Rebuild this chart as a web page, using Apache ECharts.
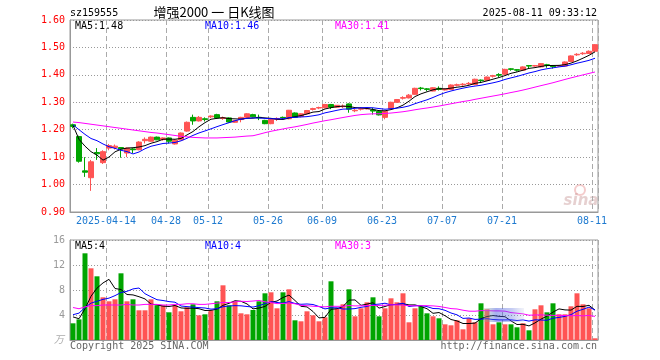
<!DOCTYPE html>
<html><head><meta charset="utf-8">
<script src="https://cdn.jsdelivr.net/npm/echarts@6/dist/echarts.min.js"></script>
<style>html,body{margin:0;padding:0;background:#fff}#c{width:660px;height:360px}</style>
</head><body><div id="c"></div>
<script>
// ---- categories (trading days) ----
const dates = [
'2025-04-03','2025-04-07','2025-04-08','2025-04-09','2025-04-10','2025-04-11','2025-04-14','2025-04-15','2025-04-16','2025-04-17',
'2025-04-18','2025-04-21','2025-04-22','2025-04-23','2025-04-24','2025-04-25','2025-04-28','2025-04-29','2025-04-30','2025-05-06',
'2025-05-07','2025-05-08','2025-05-09','2025-05-12','2025-05-13','2025-05-14','2025-05-15','2025-05-16','2025-05-19','2025-05-20',
'2025-05-21','2025-05-22','2025-05-23','2025-05-26','2025-05-27','2025-05-28','2025-05-29','2025-05-30','2025-06-03','2025-06-04',
'2025-06-05','2025-06-06','2025-06-09','2025-06-10','2025-06-11','2025-06-12','2025-06-13','2025-06-16','2025-06-17','2025-06-18',
'2025-06-19','2025-06-20','2025-06-23','2025-06-24','2025-06-25','2025-06-26','2025-06-27','2025-06-30','2025-07-01','2025-07-02',
'2025-07-03','2025-07-04','2025-07-07','2025-07-08','2025-07-09','2025-07-10','2025-07-11','2025-07-14','2025-07-15','2025-07-16',
'2025-07-17','2025-07-18','2025-07-21','2025-07-22','2025-07-23','2025-07-24','2025-07-25','2025-07-28','2025-07-29','2025-07-30',
'2025-07-31','2025-08-01','2025-08-04','2025-08-05','2025-08-06','2025-08-07','2025-08-08','2025-08-11'];
const labelDates = ['2025-04-14','2025-04-28','2025-05-12','2025-05-26','2025-06-09','2025-06-23','2025-07-07','2025-07-21','2025-08-11'];

// ---- price series ----
const opens = [1.218,1.175,1.05,1.025,1.117,1.08,1.133,1.135,1.135,1.115,
 1.13,1.127,1.16,1.158,1.173,1.164,1.17,1.148,1.163,1.195,
 1.245,1.232,1.24,1.247,1.255,1.241,1.243,1.227,1.237,1.245,
 1.255,1.245,1.234,1.222,1.238,1.245,1.24,1.261,1.249,1.258,
 1.274,1.279,1.28,1.292,1.282,1.284,1.294,1.269,1.275,1.276,
 1.272,1.267,1.245,1.277,1.30,1.315,1.316,1.329,1.352,1.349,
 1.341,1.351,1.345,1.347,1.362,1.364,1.367,1.365,1.381,1.38,
 1.395,1.401,1.402,1.422,1.419,1.417,1.434,1.432,1.429,1.437,
 1.433,1.432,1.432,1.449,1.473,1.477,1.478,1.486];
const closes = [1.212,1.085,1.045,1.083,1.112,1.12,1.142,1.14,1.13,1.133,
 1.127,1.155,1.165,1.173,1.163,1.17,1.158,1.162,1.188,1.227,
 1.232,1.245,1.237,1.25,1.243,1.244,1.228,1.233,1.245,1.258,
 1.247,1.243,1.222,1.237,1.241,1.243,1.271,1.245,1.258,1.27,
 1.277,1.281,1.292,1.282,1.289,1.286,1.275,1.271,1.277,1.278,
 1.268,1.254,1.267,1.30,1.31,1.317,1.326,1.351,1.35,1.347,
 1.353,1.347,1.348,1.363,1.364,1.366,1.369,1.384,1.379,1.392,
 1.397,1.399,1.42,1.42,1.417,1.429,1.432,1.434,1.441,1.434,
 1.43,1.434,1.447,1.469,1.475,1.479,1.486,1.51];
const lows = [1.205,1.08,1.028,0.977,1.09,1.075,1.125,1.128,1.098,1.10,
 1.115,1.125,1.15,1.156,1.162,1.16,1.15,1.146,1.162,1.193,
 1.218,1.23,1.23,1.242,1.24,1.236,1.226,1.225,1.227,1.243,
 1.245,1.235,1.22,1.22,1.232,1.24,1.238,1.243,1.245,1.256,
 1.27,1.275,1.278,1.275,1.28,1.279,1.262,1.264,1.27,1.274,
 1.255,1.252,1.238,1.275,1.298,1.31,1.314,1.327,1.343,1.34,
 1.34,1.343,1.343,1.346,1.358,1.36,1.363,1.362,1.37,1.378,
 1.39,1.392,1.40,1.415,1.412,1.415,1.425,1.43,1.427,1.426,
 1.423,1.43,1.431,1.447,1.469,1.473,1.476,1.485];
const highs = [1.222,1.178,1.10,1.09,1.133,1.125,1.148,1.146,1.136,1.135,
 1.133,1.158,1.172,1.175,1.175,1.172,1.172,1.165,1.19,1.23,
 1.255,1.25,1.245,1.252,1.258,1.248,1.245,1.235,1.247,1.26,
 1.258,1.255,1.236,1.24,1.245,1.248,1.272,1.263,1.26,1.272,
 1.28,1.284,1.294,1.294,1.29,1.292,1.296,1.276,1.281,1.279,
 1.28,1.27,1.268,1.302,1.312,1.322,1.33,1.353,1.356,1.352,
 1.355,1.358,1.35,1.365,1.368,1.37,1.374,1.386,1.383,1.394,
 1.40,1.406,1.422,1.424,1.421,1.431,1.436,1.436,1.443,1.44,
 1.436,1.436,1.449,1.471,1.479,1.483,1.489,1.512];
// volume (万)
const volumes = [2.67,3.3,13.87,11.47,10.19,6.83,6.19,6.51,10.67,6.19,
 6.51,4.75,4.75,6.51,5.55,5.55,4.43,5.55,4.59,5.23,
 5.71,3.95,4.11,4.75,6.19,8.75,5.55,6.19,4.27,4.11,
 4.8,6.19,7.47,7.63,5.07,7.63,8.11,3.15,2.99,4.59,
 3.95,2.99,3.63,9.39,5.07,5.71,8.11,3.79,5.07,6.03,
 6.83,3.79,5.07,6.67,6.03,7.47,2.83,5.07,5.39,4.27,
 3.79,3.47,2.51,2.35,3.15,1.71,3.47,2.83,5.87,4.91,
 2.51,2.83,2.51,2.51,2.03,2.67,1.55,4.91,5.55,4.43,
 5.87,4.11,4.11,5.39,7.47,5.71,5.07,0.27];

// moving-average values at the start of the window (earlier history not shown)
const ma5Head = [1.216,1.165,1.14,1.12];
const ma10Head = [1.218,1.20,1.183,1.168,1.16,1.148,1.138,1.132,1.125];
const ma30Head = [1.228,1.226,1.223,1.22,1.217,1.214,1.211,1.208,1.205,1.202,
 1.199,1.196,1.193,1.19,1.188,1.185,1.182,1.179,1.176,1.174,
 1.172,1.171,1.17,1.17,1.17,1.171,1.172,1.173,1.175];
const volMa5Head = [3.7,3.4,5.0,7.0];
const volMa10Head = [4.05,4.3,5.2,5.9,6.2,6.5,6.7,7.1,7.6];
const volMa30Head = [5.2,5.0,5.3,5.5,5.5,5.6,5.6,5.6,5.6,5.7,
 5.6,5.6,5.7,5.7,5.7,5.6,5.6,5.7,5.7,5.8,
 5.8,5.7,5.7,5.8,5.9,6.0,6.0,6.1,6.2];

function movingAvg(vals, n, head){
  return vals.map((v,i)=>{
    if (i < n-1) return head[i];
    let s=0; for(let k=i-n+1;k<=i;k++) s+=vals[k];
    return +(s/n).toFixed(4);
  });
}
const ma5 = movingAvg(closes,5,ma5Head), ma10 = movingAvg(closes,10,ma10Head), ma30 = movingAvg(closes,30,ma30Head);
const vma5 = movingAvg(volumes,5,volMa5Head), vma10 = movingAvg(volumes,10,volMa10Head), vma30 = movingAvg(volumes,30,volMa30Head);

const RED='#ff5454', GREEN='#00a400';
const isUp = i => closes[i] > opens[i] || (closes[i]===opens[i] && i>0 && closes[i]>=closes[i-1]);
const labelSet = new Set(labelDates.map(d=>dates.indexOf(d)));
const showIdx = (idx)=>labelSet.has(idx);
const MONO = '"DejaVu Sans Mono", monospace';
const last = dates.length-1;

const chart = echarts.init(document.getElementById('c'), null, {renderer:'canvas'});
const vSplit = {show:true, interval:showIdx, lineStyle:{color:'#aaa', type:[5,3], width:1}};
const hSplit = {show:true, lineStyle:{color:'#999', type:[1,2], width:1}};
chart.setOption({
  animation:false,
  backgroundColor:'#fff',
  grid:[
    {left:70, top:20, width:528, height:192, show:true, borderColor:'#999', borderWidth:1},
    {left:70, top:240, width:528, height:100, show:true, borderColor:'#999', borderWidth:1}
  ],
  xAxis:[
    {type:'category', gridIndex:0, data:dates, boundaryGap:true,
     axisLine:{show:true, lineStyle:{color:'#999'}}, axisTick:{show:false},
     axisLabel:{show:true, interval:showIdx, color:'#1e7ad0', fontFamily:MONO, fontSize:10, margin:4,
       padding:[0,6,0,0],
       formatter:(v)=> v===labelDates[0] ? v : v.slice(5)},
     splitLine:vSplit},
    {type:'category', gridIndex:1, data:dates, boundaryGap:true,
     axisLine:{show:true, lineStyle:{color:'#999'}}, axisTick:{show:false}, axisLabel:{show:false},
     splitLine:vSplit}
  ],
  yAxis:[
    {type:'value', gridIndex:0, min:0.9, max:1.6, interval:0.1,
     axisLine:{show:true, lineStyle:{color:'#999'}}, axisTick:{show:false},
     axisLabel:{color:'#ff0000', fontFamily:MONO, fontSize:10, margin:5, formatter:v=>v.toFixed(2)},
     splitLine:hSplit},
    {type:'value', gridIndex:1, min:0, max:16, interval:4,
     axisLine:{show:true, lineStyle:{color:'#999'}}, axisTick:{show:false},
     axisLabel:{color:'#999', fontFamily:MONO, fontSize:10, margin:5, formatter:v=> v===0 ? '' : String(v)},
     splitLine:hSplit}
  ],
  series:[
    {type:'candlestick', xAxisIndex:0, yAxisIndex:0, barWidth:5,
     data: dates.map((d,i)=>[opens[i], closes[i], lows[i], highs[i]]),
     itemStyle:{color:RED, color0:GREEN, borderColor:RED, borderColor0:GREEN, borderWidth:1}},
    {type:'line', xAxisIndex:0, yAxisIndex:0, data:ma5, showSymbol:false, silent:true, lineStyle:{color:'#000', width:1}},
    {type:'line', xAxisIndex:0, yAxisIndex:0, data:ma10, showSymbol:false, silent:true, lineStyle:{color:'#0000ff', width:1}},
    {type:'line', xAxisIndex:0, yAxisIndex:0, data:ma30, showSymbol:false, silent:true, lineStyle:{color:'#ff00ff', width:1}},
    {type:'bar', xAxisIndex:1, yAxisIndex:1, barWidth:5,
     data: volumes.map((v,i)=>({value:v, itemStyle:{color: isUp(i)?RED:GREEN}}))},
    {type:'line', xAxisIndex:1, yAxisIndex:1, data:vma5, showSymbol:false, silent:true, lineStyle:{color:'#000', width:1}},
    {type:'line', xAxisIndex:1, yAxisIndex:1, data:vma10, showSymbol:false, silent:true, lineStyle:{color:'#0000ff', width:1}},
    {type:'line', xAxisIndex:1, yAxisIndex:1, data:vma30, showSymbol:false, silent:true, lineStyle:{color:'#ff00ff', width:1}}
  ],
  graphic:[
    {type:'text', x:70, y:13, style:{text:'sz159555', fill:'#000', font:'10px '+MONO, textVerticalAlign:'middle'}},
    {type:'text', x:214, y:12, style:{text:'增强2000 一 日K线图', fill:'#000', font:'13px "Noto Sans CJK SC"', textAlign:'center', textVerticalAlign:'middle'}},
    {type:'text', x:597, y:13, style:{text:'2025-08-11 09:33:12', fill:'#000', font:'10px '+MONO, textAlign:'right', textVerticalAlign:'middle'}},
    {type:'text', x:75, y:26, style:{text:'MA5:'+ma5[last].toFixed(2), fill:'#000', font:'10px '+MONO, textVerticalAlign:'middle'}},
    {type:'text', x:205, y:26, style:{text:'MA10:'+ma10[last].toFixed(2), fill:'#0000ff', font:'10px '+MONO, textVerticalAlign:'middle'}},
    {type:'text', x:335, y:26, style:{text:'MA30:'+ma30[last].toFixed(2), fill:'#ff00ff', font:'10px '+MONO, textVerticalAlign:'middle'}},
    {type:'text', x:75, y:246, style:{text:'MA5:'+Math.floor(vma5[last]), fill:'#000', font:'10px '+MONO, textVerticalAlign:'middle'}},
    {type:'text', x:205, y:246, style:{text:'MA10:'+Math.floor(vma10[last]), fill:'#0000ff', font:'10px '+MONO, textVerticalAlign:'middle'}},
    {type:'text', x:335, y:246, style:{text:'MA30:'+Math.floor(vma30[last]), fill:'#ff00ff', font:'10px '+MONO, textVerticalAlign:'middle'}},
    {type:'text', x:64, y:339, style:{text:'万', fill:'#aaa', font:'italic 10px "Noto Sans CJK SC"', textAlign:'right', textVerticalAlign:'middle'}},
    {type:'text', x:70, y:346, style:{text:'Copyright 2025 SINA.COM', fill:'#666', font:'10px '+MONO, textVerticalAlign:'middle'}},
    {type:'text', x:597, y:346, style:{text:'http://finance.sina.com.cn', fill:'#666', font:'10px '+MONO, textAlign:'right', textVerticalAlign:'middle'}},
    {type:'circle', shape:{cx:580, cy:190, r:5}, style:{fill:'none', stroke:'rgba(230,140,140,0.45)', lineWidth:2}},
    {type:'text', x:581, y:201, style:{text:'sina', fill:'rgba(200,150,150,0.45)', font:'italic bold 15px "DejaVu Sans"', textAlign:'center', textVerticalAlign:'middle'}},
    {type:'rect', shape:{x:484, y:308, width:40, height:14}, z:100,
     style:{fill:new echarts.graphic.LinearGradient(0,0,1,0,[
       {offset:0, color:'rgba(160,200,140,0.35)'},{offset:0.3, color:'rgba(60,80,220,0.45)'},
       {offset:0.7, color:'rgba(90,110,220,0.35)'},{offset:1, color:'rgba(200,205,230,0.25)'}])}}
  ]
});
</script></body></html>
